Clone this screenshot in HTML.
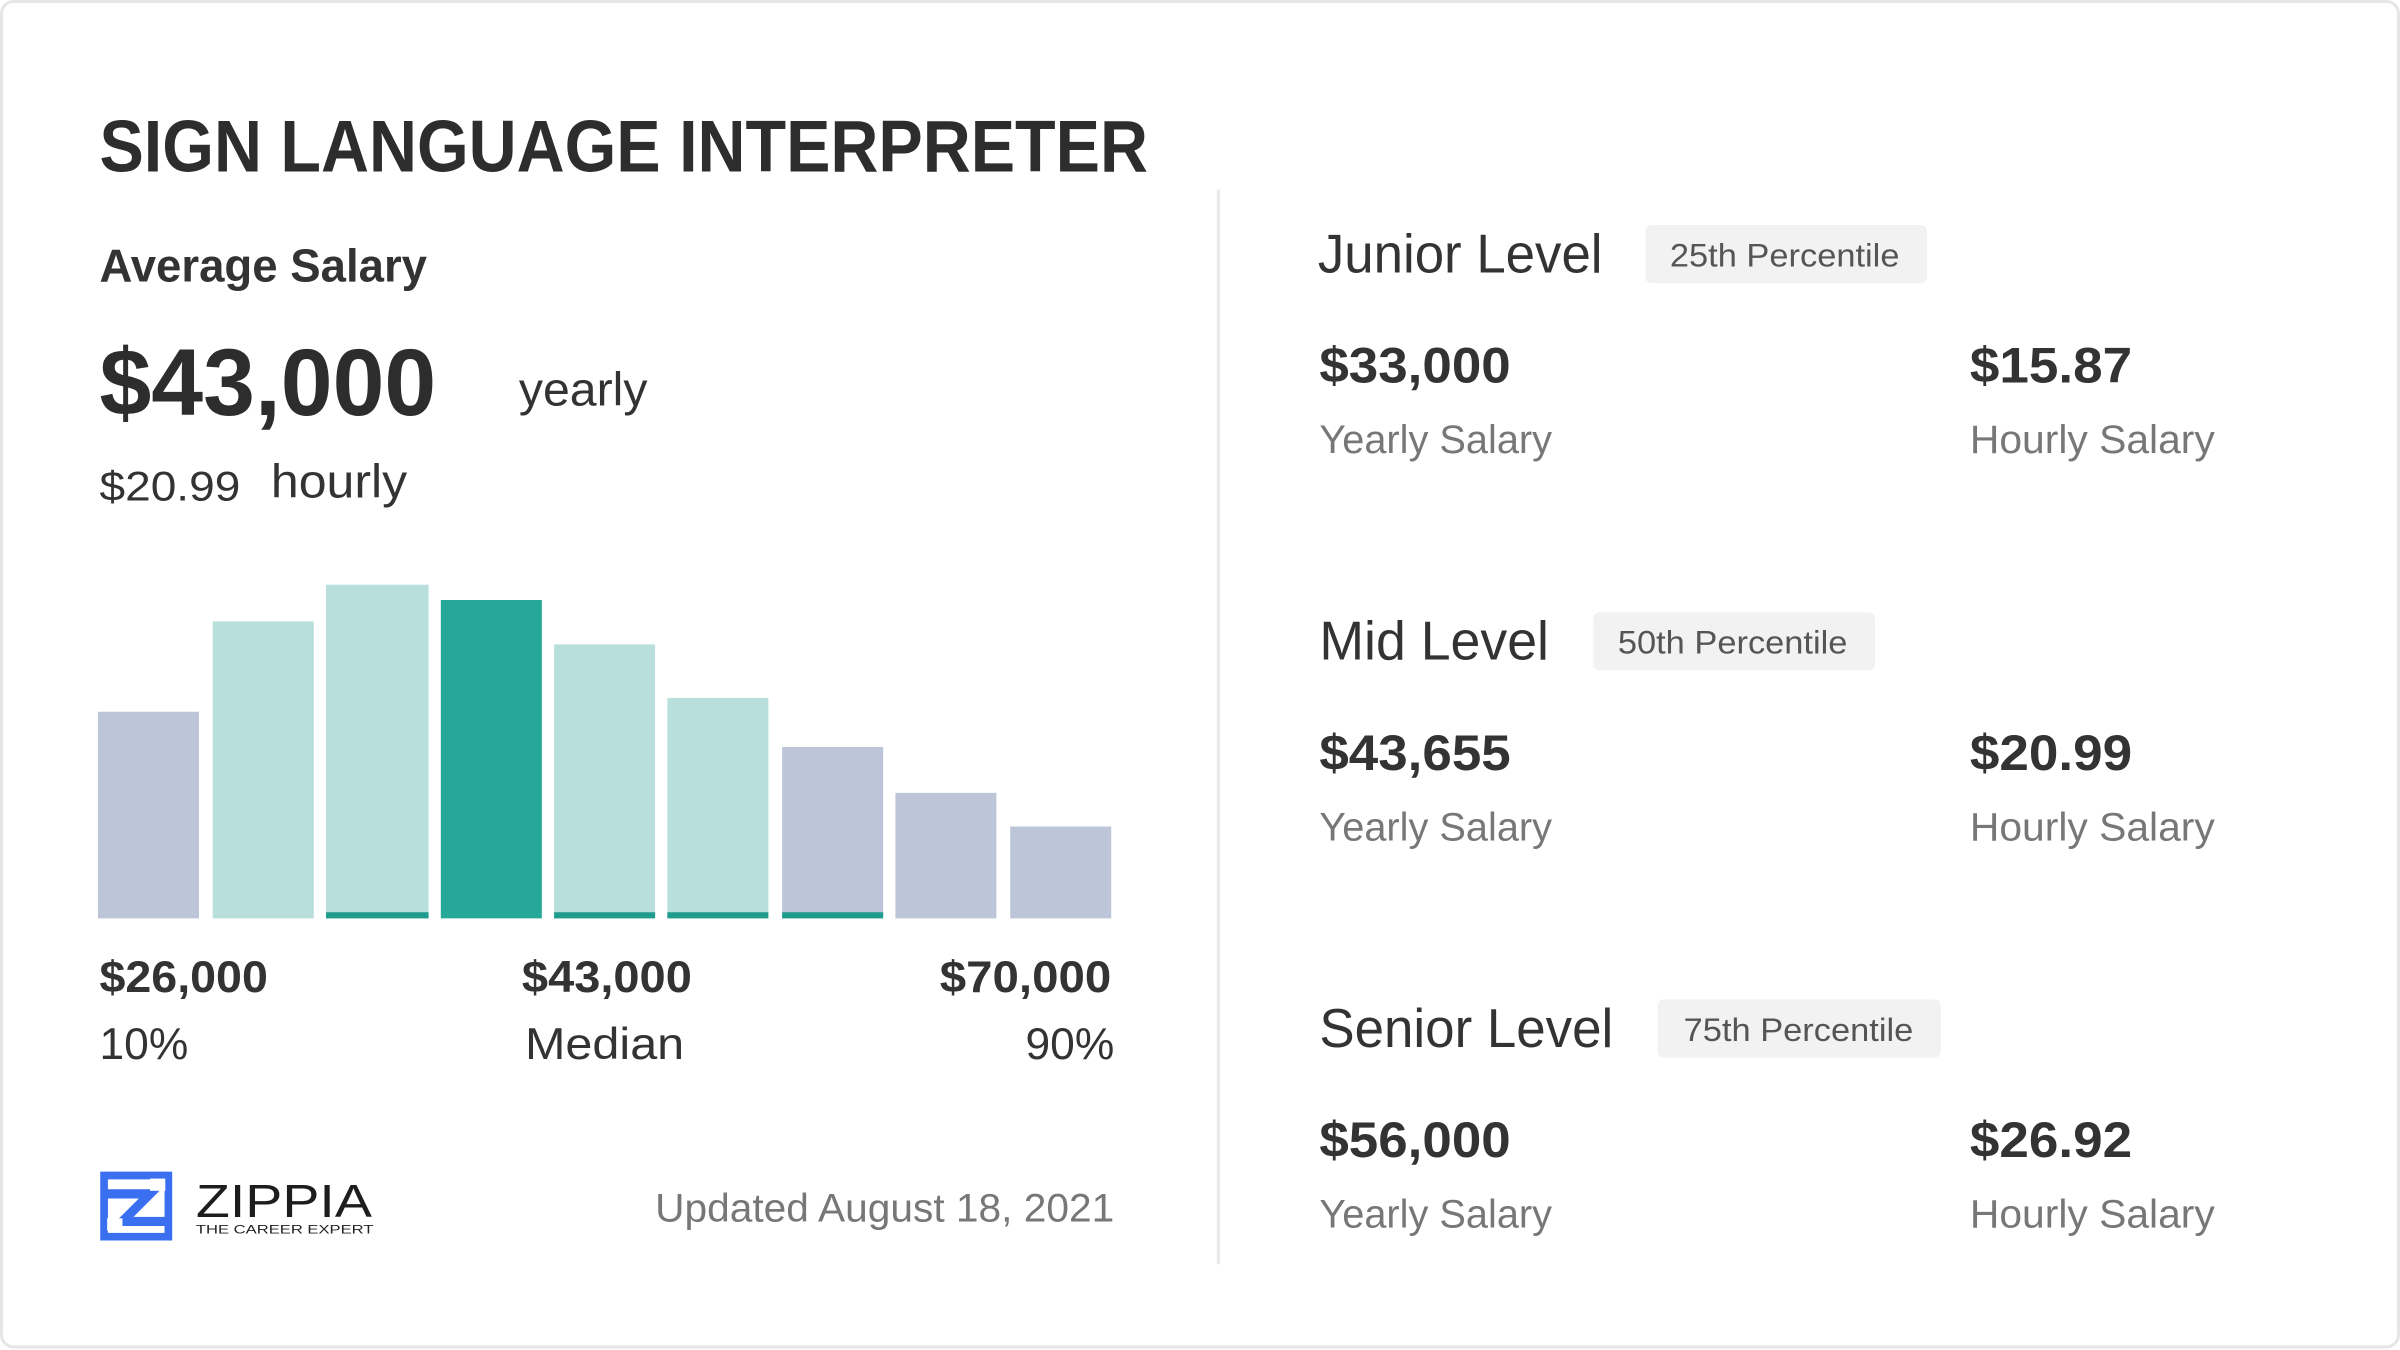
<!DOCTYPE html>
<html><head><meta charset="utf-8"><style>
html,body{margin:0;padding:0;background:#fff;}
svg{display:block;}
text{font-family:"Liberation Sans","DejaVu Sans",sans-serif;}
</style></head><body>
<svg width="2400" height="1350" viewBox="0 0 1568 882" xmlns="http://www.w3.org/2000/svg">
<rect x="0" y="0" width="1568" height="882" fill="#fff"/>
<rect x="1" y="1" width="1566" height="879" rx="8" fill="none" stroke="#e6e6e6" stroke-width="2"/>
<text x="65" y="112" font-size="48" font-weight="bold" fill="#2d2d2d" textLength="685" lengthAdjust="spacingAndGlyphs">SIGN LANGUAGE INTERPRETER</text>
<text x="65" y="184" font-size="30" font-weight="bold" fill="#333" textLength="214" lengthAdjust="spacingAndGlyphs" style="font-weight:600">Average Salary</text>
<text x="65" y="271" font-size="62" font-weight="bold" fill="#2d2d2d" textLength="220" lengthAdjust="spacingAndGlyphs">$43,000</text>
<text x="339" y="265" font-size="31" fill="#333" textLength="84" lengthAdjust="spacingAndGlyphs">yearly</text>
<text x="65" y="327" font-size="27" fill="#333" textLength="92" lengthAdjust="spacingAndGlyphs">$20.99</text>
<text x="177" y="325" font-size="31" fill="#333" textLength="89" lengthAdjust="spacingAndGlyphs">hourly</text>
<g>
<rect x="64" y="465" width="66" height="135" fill="#bdc6d9"/>
<rect x="139" y="406" width="66" height="194" fill="#b9dfdc"/>
<rect x="213" y="382" width="67" height="218" fill="#b9dfdc"/>
<rect x="288" y="392" width="66" height="208" fill="#26a898"/>
<rect x="362" y="421" width="66" height="179" fill="#b9dfdc"/>
<rect x="436" y="456" width="66" height="144" fill="#b9dfdc"/>
<rect x="511" y="488" width="66" height="112" fill="#bdc6d9"/>
<rect x="585" y="518" width="66" height="82" fill="#bdc6d9"/>
<rect x="660" y="540" width="66" height="60" fill="#bdc6d9"/>
<rect x="213" y="596" width="67" height="4" fill="#1f9c8b"/>
<rect x="362" y="596" width="66" height="4" fill="#1f9c8b"/>
<rect x="436" y="596" width="66" height="4" fill="#1f9c8b"/>
<rect x="511" y="596" width="66" height="4" fill="#1f9c8b"/>
</g>
<text x="65" y="648" font-size="29" font-weight="bold" fill="#333" textLength="110" lengthAdjust="spacingAndGlyphs">$26,000</text>
<text x="341" y="648" font-size="29" font-weight="bold" fill="#333" textLength="111" lengthAdjust="spacingAndGlyphs">$43,000</text>
<text x="614" y="648" font-size="29" font-weight="bold" fill="#333" textLength="112" lengthAdjust="spacingAndGlyphs">$70,000</text>
<text x="65" y="692" font-size="29" fill="#333" textLength="58" lengthAdjust="spacingAndGlyphs">10%</text>
<text x="343" y="692" font-size="29" fill="#333" textLength="104" lengthAdjust="spacingAndGlyphs">Median</text>
<text x="670" y="692" font-size="29" fill="#333" textLength="58" lengthAdjust="spacingAndGlyphs">90%</text>
<g>
<path d="M68 768 H110 V808 H68 Z" fill="none" stroke="#3a6ff0" stroke-width="5"/>
<path d="M70 780 H98 L80 798 H108" fill="none" stroke="#3a6ff0" stroke-width="6"/>
<rect x="98" y="770" width="10" height="8" fill="#fff"/>
<rect x="70" y="796" width="10" height="8" fill="#fff"/>
</g>
<text x="128" y="795" font-size="30" fill="#1d1d1d" textLength="115" lengthAdjust="spacingAndGlyphs">ZIPPIA</text>
<text x="128" y="806" font-size="8" fill="#222" textLength="116" lengthAdjust="spacingAndGlyphs">THE CAREER EXPERT</text>
<text x="428" y="798" font-size="26" fill="#777" textLength="300" lengthAdjust="spacingAndGlyphs">Updated August 18, 2021</text>
<rect x="795" y="124" width="2" height="702" fill="#e8e8e8"/>

<g>
<text x="861" y="178" font-size="36" fill="#333" textLength="186" lengthAdjust="spacingAndGlyphs">Junior Level</text>
<rect x="1075" y="147" width="184" height="38" rx="4" fill="#f2f2f2"/>
<text x="1091" y="174" font-size="21" fill="#555" textLength="150" lengthAdjust="spacingAndGlyphs">25th Percentile</text>
<text x="862" y="250" font-size="33" font-weight="bold" fill="#333" textLength="125" lengthAdjust="spacingAndGlyphs">$33,000</text>
<text x="862" y="296" font-size="26" fill="#777" textLength="152" lengthAdjust="spacingAndGlyphs">Yearly Salary</text>
<text x="1287" y="250" font-size="33" font-weight="bold" fill="#333" textLength="106" lengthAdjust="spacingAndGlyphs">$15.87</text>
<text x="1287" y="296" font-size="26" fill="#777" textLength="160" lengthAdjust="spacingAndGlyphs">Hourly Salary</text>
</g>
<g>
<text x="862" y="431" font-size="36" fill="#333" textLength="150" lengthAdjust="spacingAndGlyphs">Mid Level</text>
<rect x="1041" y="400" width="184" height="38" rx="4" fill="#f2f2f2"/>
<text x="1057" y="427" font-size="21" fill="#555" textLength="150" lengthAdjust="spacingAndGlyphs">50th Percentile</text>
<text x="862" y="503" font-size="33" font-weight="bold" fill="#333" textLength="125" lengthAdjust="spacingAndGlyphs">$43,655</text>
<text x="862" y="549" font-size="26" fill="#777" textLength="152" lengthAdjust="spacingAndGlyphs">Yearly Salary</text>
<text x="1287" y="503" font-size="33" font-weight="bold" fill="#333" textLength="106" lengthAdjust="spacingAndGlyphs">$20.99</text>
<text x="1287" y="549" font-size="26" fill="#777" textLength="160" lengthAdjust="spacingAndGlyphs">Hourly Salary</text>
</g>
<g>
<text x="862" y="684" font-size="36" fill="#333" textLength="192" lengthAdjust="spacingAndGlyphs">Senior Level</text>
<rect x="1083" y="653" width="185" height="38" rx="4" fill="#f2f2f2"/>
<text x="1100" y="680" font-size="21" fill="#555" textLength="150" lengthAdjust="spacingAndGlyphs">75th Percentile</text>
<text x="862" y="756" font-size="33" font-weight="bold" fill="#333" textLength="125" lengthAdjust="spacingAndGlyphs">$56,000</text>
<text x="862" y="802" font-size="26" fill="#777" textLength="152" lengthAdjust="spacingAndGlyphs">Yearly Salary</text>
<text x="1287" y="756" font-size="33" font-weight="bold" fill="#333" textLength="106" lengthAdjust="spacingAndGlyphs">$26.92</text>
<text x="1287" y="802" font-size="26" fill="#777" textLength="160" lengthAdjust="spacingAndGlyphs">Hourly Salary</text>
</g>
</svg>
</body></html>
